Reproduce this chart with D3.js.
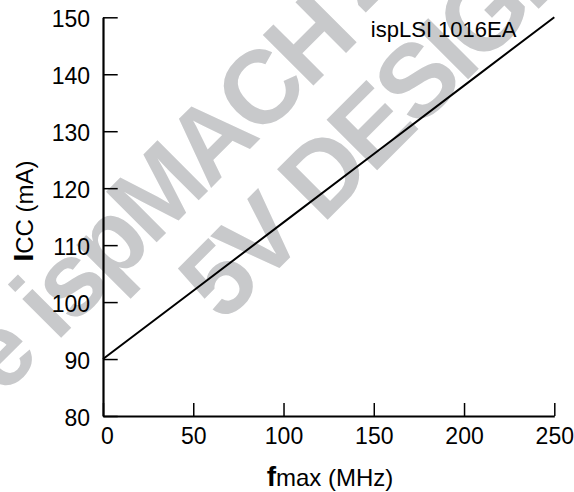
<!DOCTYPE html>
<html>
<head>
<meta charset="utf-8">
<script src="https://cdn.jsdelivr.net/npm/d3@7"></script>
<style>
  body { margin: 0; background: #fff; }
  svg { display: block; font-family: "Liberation Sans", Arial, Helvetica, sans-serif; }
</style>
</head>
<body>
<div id="chart"></div>
<script>
// data
const fmax = [0, 50, 100, 150, 200, 250]
const icc = [90, 102, 114, 126, 138, 150]
const xTicks = [0, 50, 100, 150, 200, 250]
const yTicks = [80, 90, 100, 110, 120, 130, 140, 150]
const seriesName = 'ispLSI 1016EA'
const watermark = ['ispMACH 4A5', '5V DESIGNS']

const width = 574, height = 492
const margin = {top: 17.3, right: 20, bottom: 76, left: 103}

const svg = d3.select('#chart').append('svg')
    .attr('width', width)
    .attr('height', height)

const x = d3.scaleLinear().domain([0, 250]).range([margin.left, 554.3])
const y = d3.scaleLinear().domain([80, 150]).range([height - margin.bottom, margin.top])

// watermark behind everything
const wm = svg.append('g')
    .attr('transform', 'translate(56,343) rotate(-45)')
    .style('fill', '#c8c9cb')
    .style('font-weight', 'bold')
    .style('font-size', '104px')
    .style('letter-spacing', '-5px')
wm.append('text').attr('x', -24).attr('text-anchor', 'end').text('Use')
wm.append('text').attr('x', 0).attr('y', 0).text(watermark[0])
wm.append('text').attr('x', 131).attr('y', 105).text(watermark[1])

// axes
const xAxis = d3.axisBottom(x)
    .tickValues(xTicks)
    .tickSize(-13)
    .tickSizeOuter(0)
    .tickPadding(12)
const yAxis = d3.axisLeft(y)
    .tickValues(yTicks)
    .tickSize(-14.7)
    .tickSizeOuter(0)
    .tickPadding(13)

const gx = svg.append('g')
    .attr('transform', `translate(0,${y(80)})`)
    .call(xAxis)
const gy = svg.append('g')
    .attr('transform', `translate(${x(0)},0)`)
    .call(yAxis)

for (const g of [gx, gy]) {
    g.select('.domain').attr('stroke', '#000').attr('stroke-width', 2.2)
    g.selectAll('.tick line').attr('stroke', '#000').attr('stroke-width', 1.5)
    g.selectAll('.tick text')
        .attr('fill', '#000')
        .style('font-size', '23px')
        .style('font-family', '"Liberation Sans", Arial, Helvetica, sans-serif')
}
gx.selectAll('.tick text').filter(d => d === 0).attr('dx', 4)
gy.selectAll('.tick text').attr('dy', '0.42em')

// the line
const line = d3.line()
    .x((d, i) => x(fmax[i]))
    .y(d => y(d))
svg.append('path')
    .datum(icc)
    .attr('d', line)
    .attr('fill', 'none')
    .attr('stroke', '#000')
    .attr('stroke-width', 2)

// series label
svg.append('text')
    .attr('x', x(229))
    .attr('y', y(146.5))
    .attr('text-anchor', 'end')
    .style('font-size', '22px')
    .text(seriesName)

// x title
const xt = svg.append('text')
    .attr('x', 330)
    .attr('y', 486)
    .attr('text-anchor', 'middle')
xt.append('tspan').style('font-weight', 'bold').style('font-size', '28px').text('f')
xt.append('tspan').style('font-size', '24px').text('max (MHz)')

// y title
const yt = svg.append('text')
    .attr('transform', 'translate(33,211) rotate(-90)')
    .attr('text-anchor', 'middle')
yt.append('tspan').style('font-weight', 'bold').style('font-size', '28px').text('I')
yt.append('tspan').style('font-size', '24px').text('CC (mA)')
</script>
</body>
</html>
